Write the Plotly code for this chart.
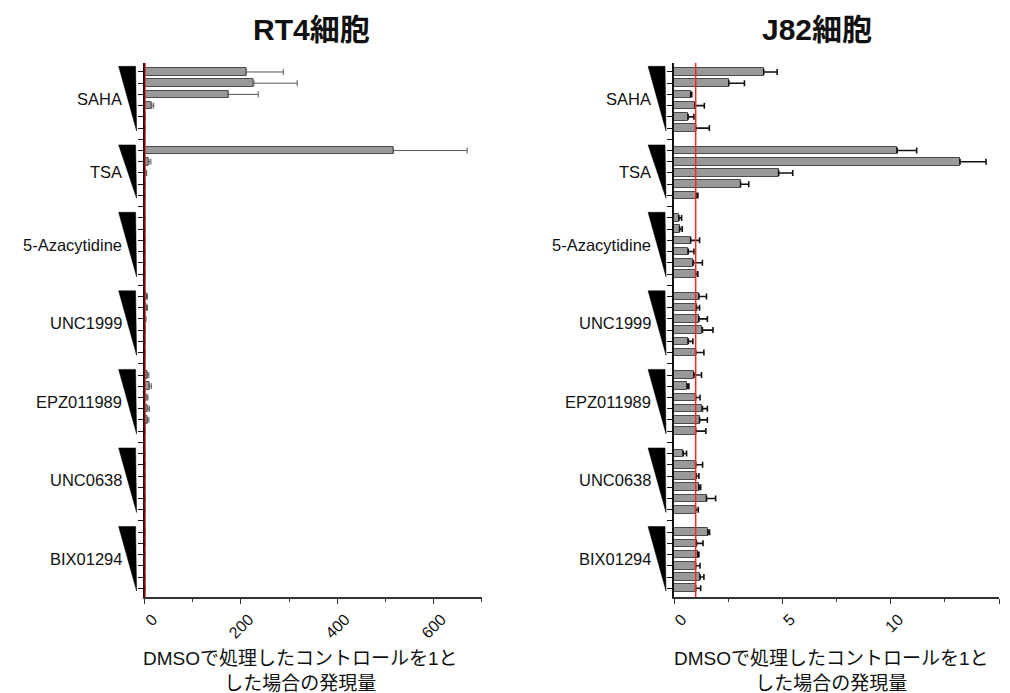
import plotly.graph_objects as go

# ---------------- data ----------------
groups = ["SAHA", "TSA", "5-Azacytidine", "UNC1999", "EPZ011989", "UNC0638", "BIX01294"]

rt4_values = [
    [211, 227, 174, 15, 1.5, 0.8],
    [517, 9, 3, 1.0, 0.8],
    [0.6, 0.7, 0.9, 0.8, 1.0, 1.0],
    [4, 4, 2, 1.2, 1.0, 1.0],
    [6, 10, 5, 7, 6, 1.2],
    [0.5, 1.0, 1.0, 1.0, 1.1, 1.0],
    [1.2, 1.0, 1.0, 1.0, 1.0, 1.0],
]
rt4_errors = [
    [77, 90, 62, 4, 0.5, 0.3],
    [153, 4, 1.5, 0.5, 0.3],
    [0.2, 0.2, 0.2, 0.2, 0.2, 0.2],
    [2, 2, 1, 0.3, 0.3, 0.3],
    [3, 4, 2, 3, 3, 0.3],
    [0.2, 0.2, 0.2, 0.2, 0.2, 0.2],
    [0.2, 0.2, 0.2, 0.2, 0.2, 0.2],
]
j82_values = [
    [4.14, 2.53, 0.77, 0.97, 0.65, 1.0],
    [10.3, 13.2, 4.83, 3.07, 1.03],
    [0.23, 0.26, 0.77, 0.66, 0.89, 1.0],
    [1.15, 1.04, 1.15, 1.31, 0.66, 1.0],
    [0.92, 0.62, 1.0, 1.31, 1.18, 1.0],
    [0.43, 1.0, 1.03, 1.15, 1.5, 1.0],
    [1.56, 1.04, 1.1, 1.0, 1.2, 1.0],
]
j82_errors = [
    [0.62, 0.72, 0.05, 0.43, 0.27, 0.63],
    [0.9, 1.2, 0.65, 0.38, 0.07],
    [0.12, 0.12, 0.41, 0.26, 0.42, 0.1],
    [0.35, 0.14, 0.39, 0.49, 0.21, 0.38],
    [0.35, 0.07, 0.2, 0.23, 0.36, 0.47],
    [0.15, 0.32, 0.12, 0.08, 0.42, 0.12],
    [0.08, 0.3, 0.05, 0.2, 0.18, 0.23],
]

rt4_ticks = [0, 200, 400, 600]
j82_ticks = [0, 5, 10, 15]
panel_titles = ["RT4細胞", "J82細胞"]
x_title = "DMSOで処理したコントロールを1と<br>した場合の発現量"
control_level = 1

# ---------------- layout helpers ----------------
W, H = 1010, 693
FONT = "Liberation Sans, Arial, Noto Sans CJK JP, sans-serif"


def px_x(p):
    return p / W


def px_y(p):
    return 1 - p / H


# slot positions: bars of each group followed by a one-slot gap
positions = []
group_spans = []
pos = 0
for vals in rt4_values:
    ps = list(range(pos, pos + len(vals)))
    positions.append(ps)
    group_spans.append((ps[0], ps[-1]))
    pos = ps[-1] + 2
n_slots = pos - 1


def flat(lst):
    return [v for sub in lst for v in sub]


ys = flat(positions)

fig = go.Figure()

panels = [
    dict(vals=rt4_values, errs=rt4_errors, xa="x", ya="y", ecol="#555555", eth=1.0),
    dict(vals=j82_values, errs=j82_errors, xa="x2", ya="y2", ecol="#111111", eth=1.6),
]
for p in panels:
    fig.add_trace(go.Bar(
        x=flat(p["vals"]), y=ys, orientation="h", width=0.68,
        marker=dict(color="#999999", line=dict(color="#4a4a4a", width=1)),
        error_x=dict(type="data", symmetric=False, array=flat(p["errs"]),
                     arrayminus=[0] * len(ys), color=p["ecol"],
                     thickness=p["eth"], width=3),
        xaxis=p["xa"], yaxis=p["ya"], showlegend=False,
    ))

axis_px = [142, 673]
dom_x1 = [px_x(142), px_x(480)]
dom_x2 = [px_x(673), px_x(999)]
dom_y = [px_y(597), px_y(63)]

yrange = [n_slots - 1 + 0.78, -0.8]
yaxis_common = dict(range=yrange, domain=dom_y, tickmode="array",
                    tickvals=list(range(n_slots)), showticklabels=False,
                    ticks="outside", ticklen=5, tickwidth=1.3, tickcolor="#111",
                    showline=True, linecolor="#111", linewidth=1.5,
                    showgrid=False, zeroline=False)
xaxis_common = dict(showline=True, linecolor="#333", linewidth=1.5,
                    ticks="outside", ticklen=5, tickwidth=1.3, tickcolor="#333",
                    tickangle=-45, tickfont=dict(size=16, color="#111", family=FONT),
                    ticklabelshift=8,
                    showgrid=False, zeroline=False, tickmode="array",
                    minor=dict(ticks="outside", ticklen=3, tickwidth=1.2, tickcolor="#333"))

fig.update_layout(
    width=W, height=H, autosize=False,
    margin=dict(l=0, r=0, t=0, b=0),
    paper_bgcolor="white", plot_bgcolor="white",
    font=dict(family=FONT, color="#111"),
    bargap=0,
    xaxis=dict(xaxis_common, domain=dom_x1, range=[0, 700], tickvals=rt4_ticks,
               anchor="y", minor=dict(xaxis_common["minor"], dtick=100, tick0=0)),
    yaxis=dict(yaxis_common, anchor="x"),
    xaxis2=dict(xaxis_common, domain=dom_x2, range=[0, 15], tickvals=j82_ticks,
                anchor="y2", minor=dict(xaxis_common["minor"], dtick=2.5, tick0=0)),
    yaxis2=dict(yaxis_common, anchor="x2"),
)

shapes = []
annotations = []
for (xa, ya), ax_px in zip([("x", "y"), ("x2", "y2")], axis_px):
    # red control line at 1
    shapes.append(dict(type="line", xref=xa, yref=ya + " domain", x0=control_level,
                       x1=control_level, y0=0, y1=1,
                       line=dict(color="#ee2a24", width=1.5), layer="above"))
    xl = px_x(ax_px - 26)
    xr = px_x(ax_px - 9)
    xb = px_x(ax_px - 8)
    for g, (a, b) in zip(groups, group_spans):
        ytop = a - 0.5
        ybot = b + 0.25
        shapes.append(dict(type="path", xref="paper", yref=ya,
                           path=f"M {xl},{ytop} L {xr},{ytop} L {xb},{ybot} Z",
                           fillcolor="black", line=dict(color="black", width=0.5)))
        annotations.append(dict(text=g, xref="paper", yref=ya, x=px_x(ax_px - 21),
                                y=(ytop + ybot) / 2, xanchor="right", yanchor="middle",
                                showarrow=False, font=dict(size=16.5, family=FONT, color="#111")))

# panel titles
for t, cx in zip(panel_titles, [309, 816]):
    annotations.append(dict(text=f"<b>{t}</b>", xref="paper", yref="paper",
                            x=px_x(cx), y=px_y(30), xanchor="center", yanchor="middle",
                            showarrow=False, font=dict(size=30, family=FONT, color="#111")))
# x-axis titles
for cx in [298, 831]:
    annotations.append(dict(text=x_title, xref="paper", yref="paper",
                            x=px_x(cx), y=px_y(671), xanchor="center", yanchor="middle",
                            showarrow=False, font=dict(size=19, family=FONT, color="#111")))

fig.update_layout(shapes=shapes, annotations=annotations)

fig.write_html(
    "out.html",
    config={"responsive": False, "displayModeBar": False},
    post_script="document.body.style.margin='0';document.body.style.overflow='hidden';",
)
